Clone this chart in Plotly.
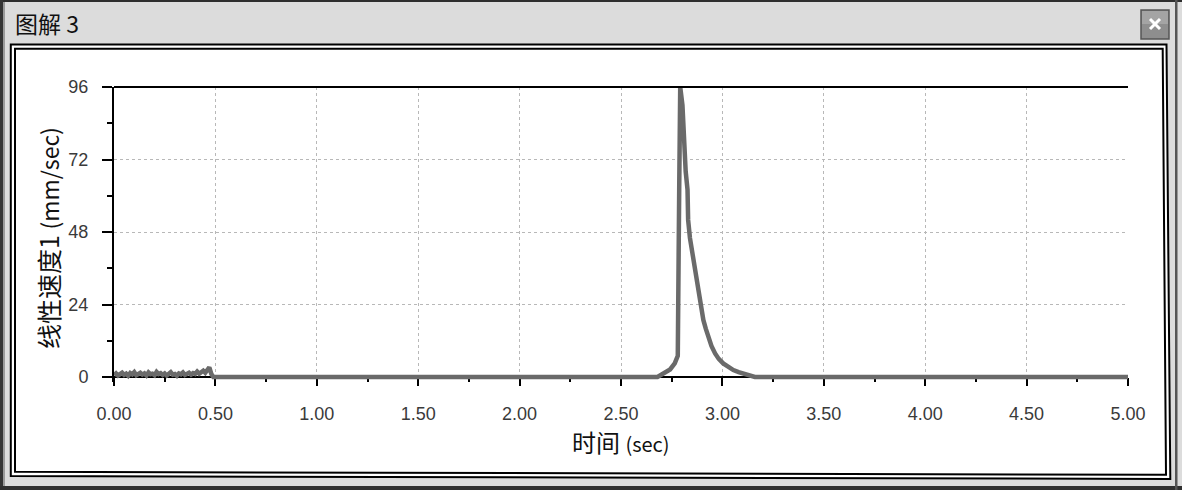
import plotly.graph_objects as go

# ---------------- data ----------------
noise_time = [round(i * 0.01, 2) for i in range(49)]
noise_vel = [0.6, 1.2, 0.5, 1.0, 1.4, 0.7, 1.1, 0.4, 1.3, 0.9, 1.6, 0.6, 1.0, 1.4, 0.8,
             1.2, 0.5, 1.5, 0.9, 1.1, 0.6, 1.7, 1.0, 1.3, 0.7, 1.2, 0.5, 1.1, 1.6, 0.8,
             1.0, 0.4, 1.2, 0.9, 1.5, 0.7, 1.1, 1.4, 0.8, 1.3, 1.0, 1.8, 1.1, 1.6, 2.1,
             1.4, 2.6, 3.2, 1.0]
pulse_time = [0.49, 2.68, 2.70, 2.742, 2.765, 2.780, 2.787, 2.792, 2.803, 2.811, 2.819,
              2.828, 2.831, 2.840, 2.852, 2.865, 2.878, 2.893, 2.906, 2.918, 2.931, 2.946,
              2.964, 2.982, 3.004, 3.030, 3.054, 3.080, 3.111, 3.135, 3.16, 5.00]
pulse_vel = [0.0, 0.0, 0.8, 2.5, 4.5, 7.0, 62.0, 96.0, 90.0, 75.0, 68.0,
             62.0, 52.0, 46.0, 41.0, 35.0, 30.0, 23.3, 18.9, 16.0, 13.3, 10.3,
             7.8, 6.0, 4.5, 3.3, 2.3, 1.6, 1.0, 0.5, 0.0, 0.0]
time_s = noise_time + pulse_time
velocity = noise_vel + pulse_vel

x_ticks = [0, 0.5, 1.0, 1.5, 2.0, 2.5, 3.0, 3.5, 4.0, 4.5, 5.0]
x_ticklabels = ["0.00", "0.50", "1.00", "1.50", "2.00", "2.50", "3.00", "3.50", "4.00", "4.50", "5.00"]
y_ticks = [0, 24, 48, 72, 96]

# ---------------- geometry ----------------
W, H = 1182, 490
L, R, T, B = 114, 1128, 87, 382
Y0PIX = 377  # pixel of value 0
ppu = (Y0PIX - T) / 96.0
ymin = -(B - Y0PIX) / ppu


def px(x):
    return (x - L) / (R - L)


def py(y):
    return (B - y) / (B - T)


def path(pts):
    s = "M " + " L ".join(f"{px(a):.5f},{py(b):.5f}" for a, b in pts) + " Z"
    return s


FONT_LAT = "Liberation Sans, Arial, Noto Sans CJK SC"
FONT_CJK = "Noto Sans CJK SC, Liberation Sans"

fig = go.Figure()
fig.add_trace(go.Scatter(x=time_s, y=velocity, mode="lines",
                         line=dict(color="#6a6a6a", width=4.5), hoverinfo="skip",
                         showlegend=False))

shapes = []
# window frame
shapes.append(dict(type="rect", xref="paper", yref="paper", x0=px(0), x1=px(W), y0=py(H), y1=py(0),
                   fillcolor="#dcdcdc", line=dict(width=0), layer="below"))
shapes.append(dict(type="rect", xref="paper", yref="paper", x0=px(0), x1=px(W), y0=py(2), y1=py(0),
                   fillcolor="#2e2e2e", line=dict(width=0), layer="below"))
shapes.append(dict(type="rect", xref="paper", yref="paper", x0=px(0), x1=px(3), y0=py(H), y1=py(0),
                   fillcolor="#353535", line=dict(width=0), layer="below"))
shapes.append(dict(type="rect", xref="paper", yref="paper", x0=px(3), x1=px(5), y0=py(H), y1=py(2),
                   fillcolor="#9a9a9a", line=dict(width=0), layer="below"))
shapes.append(dict(type="rect", xref="paper", yref="paper", x0=px(0), x1=px(W), y0=py(H), y1=py(486),
                   fillcolor="#303030", line=dict(width=0), layer="below"))
shapes.append(dict(type="rect", xref="paper", yref="paper", x0=px(1175), x1=px(1177.5), y0=py(H), y1=py(0),
                   fillcolor="#555555", line=dict(width=0), layer="below"))
# close button
shapes.append(dict(type="rect", xref="paper", yref="paper", x0=px(1141), x1=px(1169), y0=py(39), y1=py(10),
                   fillcolor="#8e8e8e", line=dict(color="#555555", width=1.5), layer="below"))
shapes.append(dict(type="rect", xref="paper", yref="paper", x0=px(1142), x1=px(1168), y0=py(24), y1=py(11),
                   fillcolor="#a4a4a4", line=dict(width=0), layer="below"))
for (a, b, c, d) in [(1150, 19, 1160, 29), (1150, 29, 1160, 19)]:
    shapes.append(dict(type="line", xref="paper", yref="paper", x0=px(a), y0=py(b), x1=px(c), y1=py(d),
                       line=dict(color="white", width=3), layer="below"))
# white panel + double border
outer = [(10.8, 44.5), (1166.5, 44.5), (1170.3, 479.0), (10.8, 476.0)]
inner = [(15.0, 48.8), (1162.7, 48.8), (1166.0, 474.8), (15.0, 471.8)]
shapes.append(dict(type="path", xref="paper", yref="paper", path=path(outer),
                   fillcolor="white", line=dict(color="black", width=2), layer="below"))
shapes.append(dict(type="path", xref="paper", yref="paper", path=path(inner),
                   fillcolor="white", line=dict(color="black", width=2), layer="below"))
# top frame line of plot
shapes.append(dict(type="line", xref="paper", yref="paper", x0=px(L), x1=px(R), y0=py(T), y1=py(T),
                   line=dict(color="black", width=2), layer="above"))

annotations = [
    dict(text="图解 3", xref="paper", yref="paper", x=px(13), y=py(23), xanchor="left", yanchor="middle",
         showarrow=False, font=dict(family=FONT_CJK, size=23, color="#111111")),
    dict(text="时间 <span style='font-size:20px'>(sec)</span>", xref="paper", yref="paper",
         x=px(621), y=py(441), xanchor="center", yanchor="middle", showarrow=False,
         font=dict(family=FONT_CJK, size=24, color="#111111")),
    dict(text="线性速度1 <span style='font-size:23px'>(mm/sec)</span>", xref="paper", yref="paper",
         x=px(48), y=py(238), xanchor="center", yanchor="middle", textangle=-90, showarrow=False,
         font=dict(family=FONT_CJK, size=25, color="#111111")),
]

fig.update_layout(
    width=W, height=H,
    margin=dict(l=L, r=W - R, t=T, b=H - B, pad=0),
    paper_bgcolor="#dcdcdc", plot_bgcolor="white",
    shapes=shapes, annotations=annotations, showlegend=False,
    xaxis=dict(range=[0, 5], tickvals=x_ticks, ticktext=x_ticklabels,
               showline=True, linecolor="black", linewidth=2,
               ticks="outside", ticklen=8, tickwidth=2, tickcolor="black",
               showgrid=True, gridcolor="#b8b8b8", gridwidth=1, griddash="dot",
               zeroline=False, anchor="free", position=(B - Y0PIX) / (B - T),
               layer="below traces", ticklabelstandoff=12,
               tickfont=dict(family=FONT_LAT, size=18, color="#3a3a3a"),
               minor=dict(dtick=0.25, tick0=0, ticks="outside", ticklen=4, tickwidth=1.5,
                          tickcolor="black", showgrid=False)),
    yaxis=dict(range=[ymin, 96], tickvals=y_ticks,
               showline=True, linecolor="black", linewidth=2,
               ticks="outside", ticklen=10, tickwidth=2, tickcolor="black",
               showgrid=True, gridcolor="#b8b8b8", gridwidth=1, griddash="dot",
               zeroline=False, layer="below traces", ticklabelstandoff=10,
               tickfont=dict(family=FONT_LAT, size=18, color="#3a3a3a"),
               minor=dict(dtick=12, tick0=0, ticks="outside", ticklen=5, tickwidth=1.5,
                          tickcolor="black", showgrid=False)),
)

fig.write_html("out.html", config={"displayModeBar": False},
               post_script="document.body.style.margin='0px';document.body.style.overflow='hidden';")
